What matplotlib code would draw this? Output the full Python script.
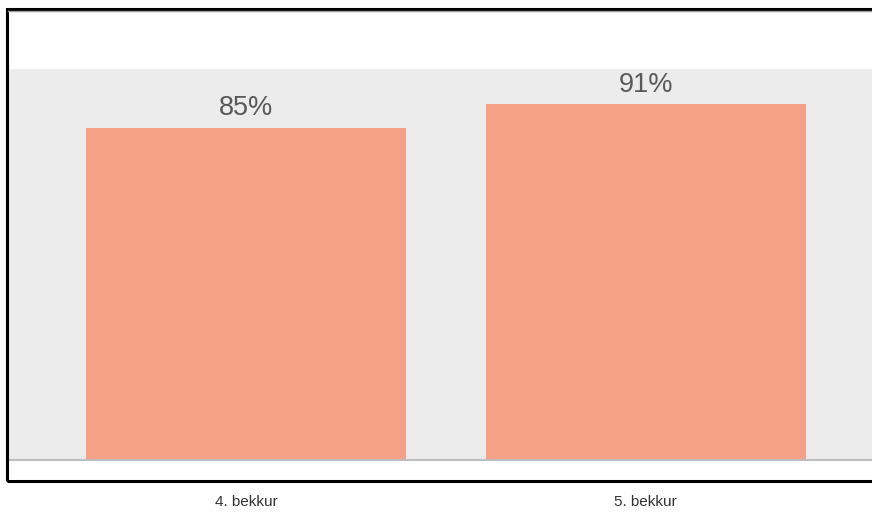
import matplotlib.pyplot as plt
from matplotlib.patches import Rectangle

plt.rcParams['font.family'] = ['Liberation Sans', 'DejaVu Sans']

# Data
categories = ["4. bekkur", "5. bekkur"]
values = [85, 91]
value_labels = ["85%", "91%"]

W, H = 872, 512
fig = plt.figure(figsize=(W / 100, H / 100), dpi=100)

# plot panel (extends a bit past the right edge like the cropped original)
left, right, top, bottom = 8, 884, 69, 460
ax = fig.add_axes([left / W, (H - bottom) / H, (right - left) / W, (bottom - top) / H])
ax.set_facecolor("#ececec")

x = list(range(len(categories)))
ax.bar(x, values, width=0.8, color="#f5a187", zorder=2)

for xi, v, lab in zip(x, values, value_labels):
    ax.annotate(lab, (xi, v), xytext=(0, 9), textcoords="offset points",
                ha="center", va="baseline", fontsize=19.5, color="#595959")

ax.set_xlim(-0.5965, 1.5965)
ax.set_ylim(0, 100)
ax.set_yticks([])
ax.set_xticks(x)
ax.set_xticklabels(categories, fontsize=11, color="#333333")
ax.tick_params(axis="x", length=0, pad=25)
for s in ["top", "right", "left"]:
    ax.spines[s].set_visible(False)
ax.spines["bottom"].set_color("#bdbdbd")
ax.spines["bottom"].set_linewidth(1.5)

# outer frame
fig.patches.append(Rectangle((7 / W, (H - 481) / H), 900 / W, (481 - 9) / H,
                             transform=fig.transFigure, fill=False,
                             edgecolor="black", linewidth=2.2))
fig.lines.append(plt.Line2D([8 / W, 1], [(H - 10.5) / H] * 2,
                            transform=fig.transFigure, color="#9a9a9a", linewidth=1))

fig.savefig("out.png", dpi=100)
